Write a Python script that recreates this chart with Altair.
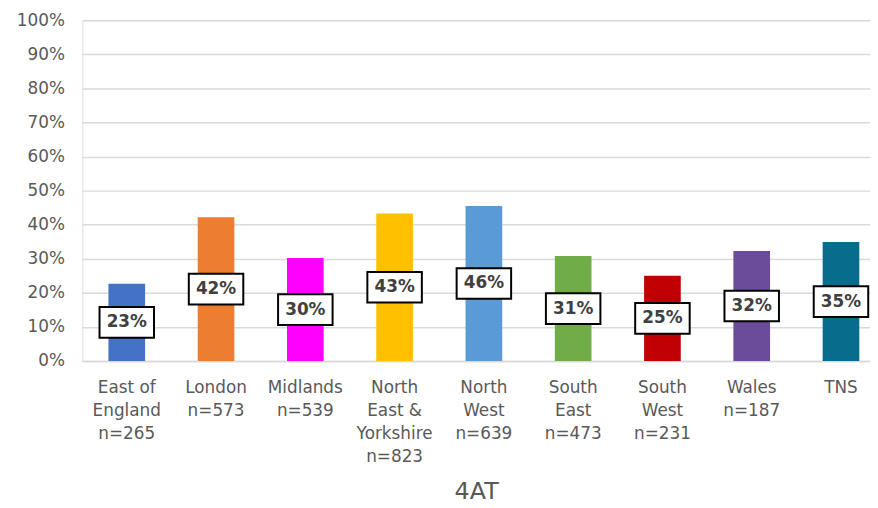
import altair as alt
import pandas as pd

regions = ["East of\nEngland\nn=265", "London\nn=573", "Midlands\nn=539",
           "North\nEast &\nYorkshire\nn=823", "North\nWest\nn=639", "South\nEast\nn=473",
           "South\nWest\nn=231", "Wales\nn=187", "TNS"]
values = [22.7, 42.2, 30.2, 43.3, 45.5, 30.8, 25.0, 32.3, 34.9]
labels = ["23%", "42%", "30%", "43%", "46%", "31%", "25%", "32%", "35%"]
colors = ["#4472C4", "#ED7D31", "#FF00FF", "#FFC000", "#5B9BD5", "#70AD47",
          "#C00000", "#6B4C9A", "#086C8C"]
y_ticks = [0, 10, 20, 30, 40, 50, 60, 70, 80, 90, 100]

df = pd.DataFrame({"region": regions, "value": values, "label": labels, "color": colors})

FONT = "DejaVu Sans"
GRAY = "#595959"

xscale = alt.Scale(paddingInner=0.589, paddingOuter=0.206, align=0.71)
yscale = alt.Scale(domain=[0, 100])

xaxis = alt.Axis(title="4AT", labelExpr="split(datum.label, '\\n')",
                 labelAngle=0, labelFontSize=17, labelColor=GRAY, labelFont=FONT,
                 labelLineHeight=23, labelPadding=19, ticks=False,
                 domainColor="#d9d9d9", domainWidth=1.5,
                 titleFontSize=24, titleColor=GRAY, titleFont=FONT,
                 titleFontWeight="normal", titlePadding=16)
yaxis = alt.Axis(title=None, values=y_ticks, labelExpr="datum.value + '%'",
                 labelFontSize=17, labelColor=GRAY, labelFont=FONT,
                 labelPadding=18, ticks=False, domain=False, labelOverlap=False,
                 gridColor="#d9d9d9", gridWidth=1.5)

bars = alt.Chart(df).mark_bar(size=37).encode(
    x=alt.X("region:N", sort=regions, scale=xscale, axis=xaxis),
    y=alt.Y("value:Q", scale=yscale, axis=yaxis),
    color=alt.Color("color:N", scale=None),
)

boxes = alt.Chart(df).transform_calculate(
    lo="datum.value / 2 - 4.5", hi="datum.value / 2 + 4.5"
).mark_bar(size=55, color="white", stroke="black", strokeWidth=2).encode(
    x=alt.X("region:N", sort=regions, scale=xscale, axis=xaxis),
    y=alt.Y("lo:Q", scale=yscale, axis=yaxis), y2="hi:Q",
)

texts = alt.Chart(df).transform_calculate(
    mid="datum.value / 2"
).mark_text(font=FONT, fontSize=17, fontWeight="bold", color="#404040").encode(
    x=alt.X("region:N", sort=regions, scale=xscale, axis=xaxis),
    y=alt.Y("mid:Q", scale=yscale, axis=yaxis),
    text="label:N",
)

chart = alt.layer(bars, boxes, texts).properties(
    width=795, height=344,
    autosize=alt.AutoSizeParams(type="none"),
    padding={"left": 75, "top": 10, "right": 0, "bottom": 146},
).configure_view(stroke=None).configure(background="white")

chart.save("out.html", embed_options={"renderer": "svg", "actions": False})
